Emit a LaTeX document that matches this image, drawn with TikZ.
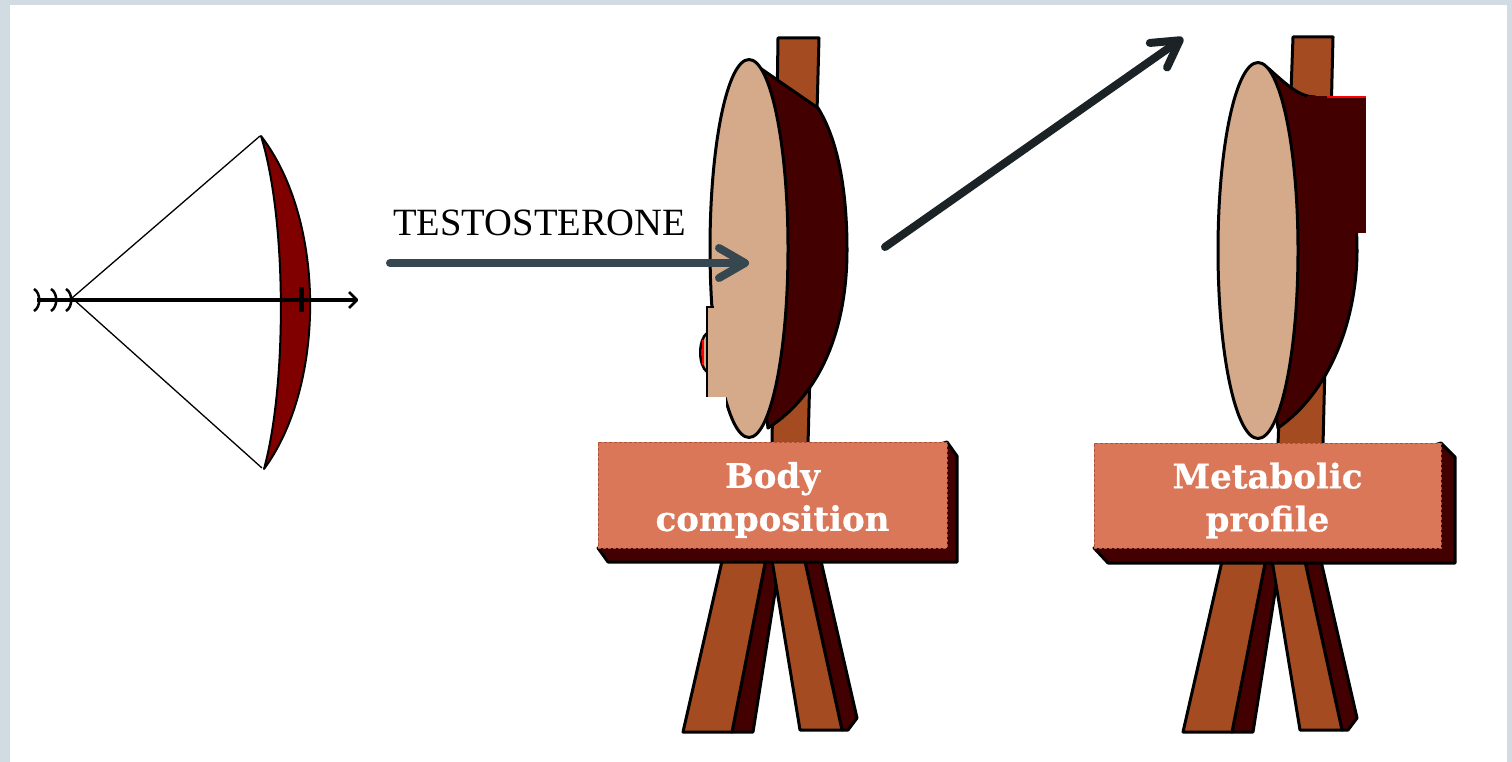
\documentclass[tikz,border=0pt]{standalone}
\usepackage{fontspec}
\setmainfont{Liberation Serif}
\newfontfamily\signfont[BoldFeatures={FakeBold=0.6}]{DejaVu Serif}
\usetikzlibrary{arrows.meta,shapes.geometric}

\definecolor{frameblue}{RGB}{208,220,225}
\definecolor{wood}{RGB}{164,75,34}
\definecolor{maroon}{RGB}{66,0,0}
\definecolor{skin}{RGB}{212,170,138}
\definecolor{limb}{RGB}{128,0,0}
\definecolor{signfill}{RGB}{218,119,89}
\definecolor{signedge}{RGB}{170,82,58}
\definecolor{slate}{RGB}{55,71,79}
\definecolor{ink}{RGB}{27,35,38}

\tikzset{
  inkline/.style={draw=black, line width=3pt, line join=round},
  woodpc/.style={inkline, fill=wood},
  darkpc/.style={inkline, fill=maroon},
  facepc/.style={inkline, fill=skin, ellipse, inner sep=0pt},
  board/.style={rectangle, fill=signfill, draw=signedge, densely dashed,
    line width=0.8pt, inner sep=0pt},
  boardtext/.style={text=white, align=center, inner sep=0pt,
    font=\signfont\bfseries\fontsize{34}{43}\selectfont},
  pointer/.style={line width=8pt, line cap=round,
    -{Straight Barb[length=26pt, width=30pt, round]}},
  % the two crossed legs under each sign
  legs/.pic={
    \path[darkpc] (768,548) -- (782,548) -- (753,732) -- (732,732) -- cycle;
    \path[woodpc] (725,548) -- (768,548) -- (732,732) -- (683,732) -- cycle;
    \path[darkpc] (802,548) -- (818,548) -- (857,718) -- (848,730) -- (842,730) -- cycle;
    \path[woodpc] (770,548) -- (802,548) -- (842,730) -- (800,730) -- cycle;
  }
}

\begin{document}
\begin{tikzpicture}[x=1pt,y=-1pt]
\useasboundingbox (0,0) rectangle (1512,762);
\fill[frameblue] (0,0) rectangle (1512,762);
\fill[white] (10,5) rectangle (1507,762);

% ---------- bow and arrow ----------
\draw[line width=1.3pt] (260,136) -- (72,298) -- (262,468);
\path[draw=black, fill=limb, line width=2pt, line join=round]
  (261,136) .. controls (326,220) and (326,385) .. (264,469)
  .. controls (287,385) and (287,220) .. cycle;
\draw[line width=3.5pt] (37,300) -- (356,300);
\draw[line width=2.5pt, line join=round] (349,292) -- (357,300) -- (349,308);
\fill (299,287) rectangle (304,312);
\foreach \fx in {38,55,70}{
  \draw[line width=2.5pt] (\fx-4,289) .. controls (\fx+3,293) and (\fx+3,307) .. (\fx-4,311);
}

% ---------- label and incoming arrow ----------
\node[anchor=base west, inner sep=0pt, font=\fontsize{38.6}{46}\selectfont]
  (hormone) at (393,235) {TESTOSTERONE};

% ---------- first target ----------
\path[woodpc] (778,38) -- (819,38) -- (808,445) -- (772,445) -- cycle;
\path[darkpc] (760,68) -- (818,108) .. controls (838,140) and (847,190) .. (847,250)
  .. controls (847,330) and (820,395) .. (768,428) -- (745,250) -- cycle;
\fill[skin] (707,333) .. controls (698,340) and (698,365) .. (707,372) -- cycle;
\draw[line width=2.5pt] (707,333) .. controls (698,340) and (698,365) .. (707,372);
\draw[red, line width=1.5pt] (703,340) -- (703,365);
\node[facepc, minimum width=78pt, minimum height=378pt] (face1) at (749,248.5) {};
\fill[skin] (708,307) rectangle (728,397);
\draw[line width=2.5pt] (714,307) -- (707,307) -- (707,397);
\fill[white] (704,397) rectangle (726,433);

\pic at (0,0) {legs};
\path[darkpc] (598,548) -- (608,562) -- (957,562) -- (957,456) -- (947,442) -- cycle;
\node[board, minimum width=349pt, minimum height=106pt] (sign1) at (772.5,495) {};
\node[boardtext] (sign1text) at ([yshift=-5pt]sign1.center) {Body\\composition};

% ---------- second target ----------
\path[woodpc] (1293,37) -- (1333,37) -- (1323,445) -- (1278,445) -- cycle;
\path[darkpc] (1268,68) .. controls (1288,86) and (1300,97) .. (1315,97)
  -- (1355,150) -- (1357,250) .. controls (1357,320) and (1330,392) .. (1278,428)
  -- (1250,250) -- cycle;
\fill[maroon] (1307,96) rectangle (1366,233);
\draw[red, line width=2pt] (1327,97) -- (1366,97);
\node[facepc, minimum width=80pt, minimum height=376pt] (face2) at (1258,250.5) {};

\pic at (500,0) {legs};
\path[darkpc] (1094,548) -- (1108,563) -- (1455,563) -- (1455,457) -- (1441,443) -- cycle;
\node[board, minimum width=347pt, minimum height=105pt] (sign2) at (1267.5,495.5) {};
\node[boardtext] (sign2text) at ([yshift=-5pt]sign2.center) {Metabolic\\profile};

% ---------- arrows ----------
\coordinate (hin) at (390,263);
\draw[pointer, draw=slate] (hin) -- (hin -| face1);
\coordinate (uin) at (885,247);
\coordinate (uout) at (1183,38);
\draw[pointer, draw=ink] (uin) -- (uout);
\end{tikzpicture}
\end{document}
